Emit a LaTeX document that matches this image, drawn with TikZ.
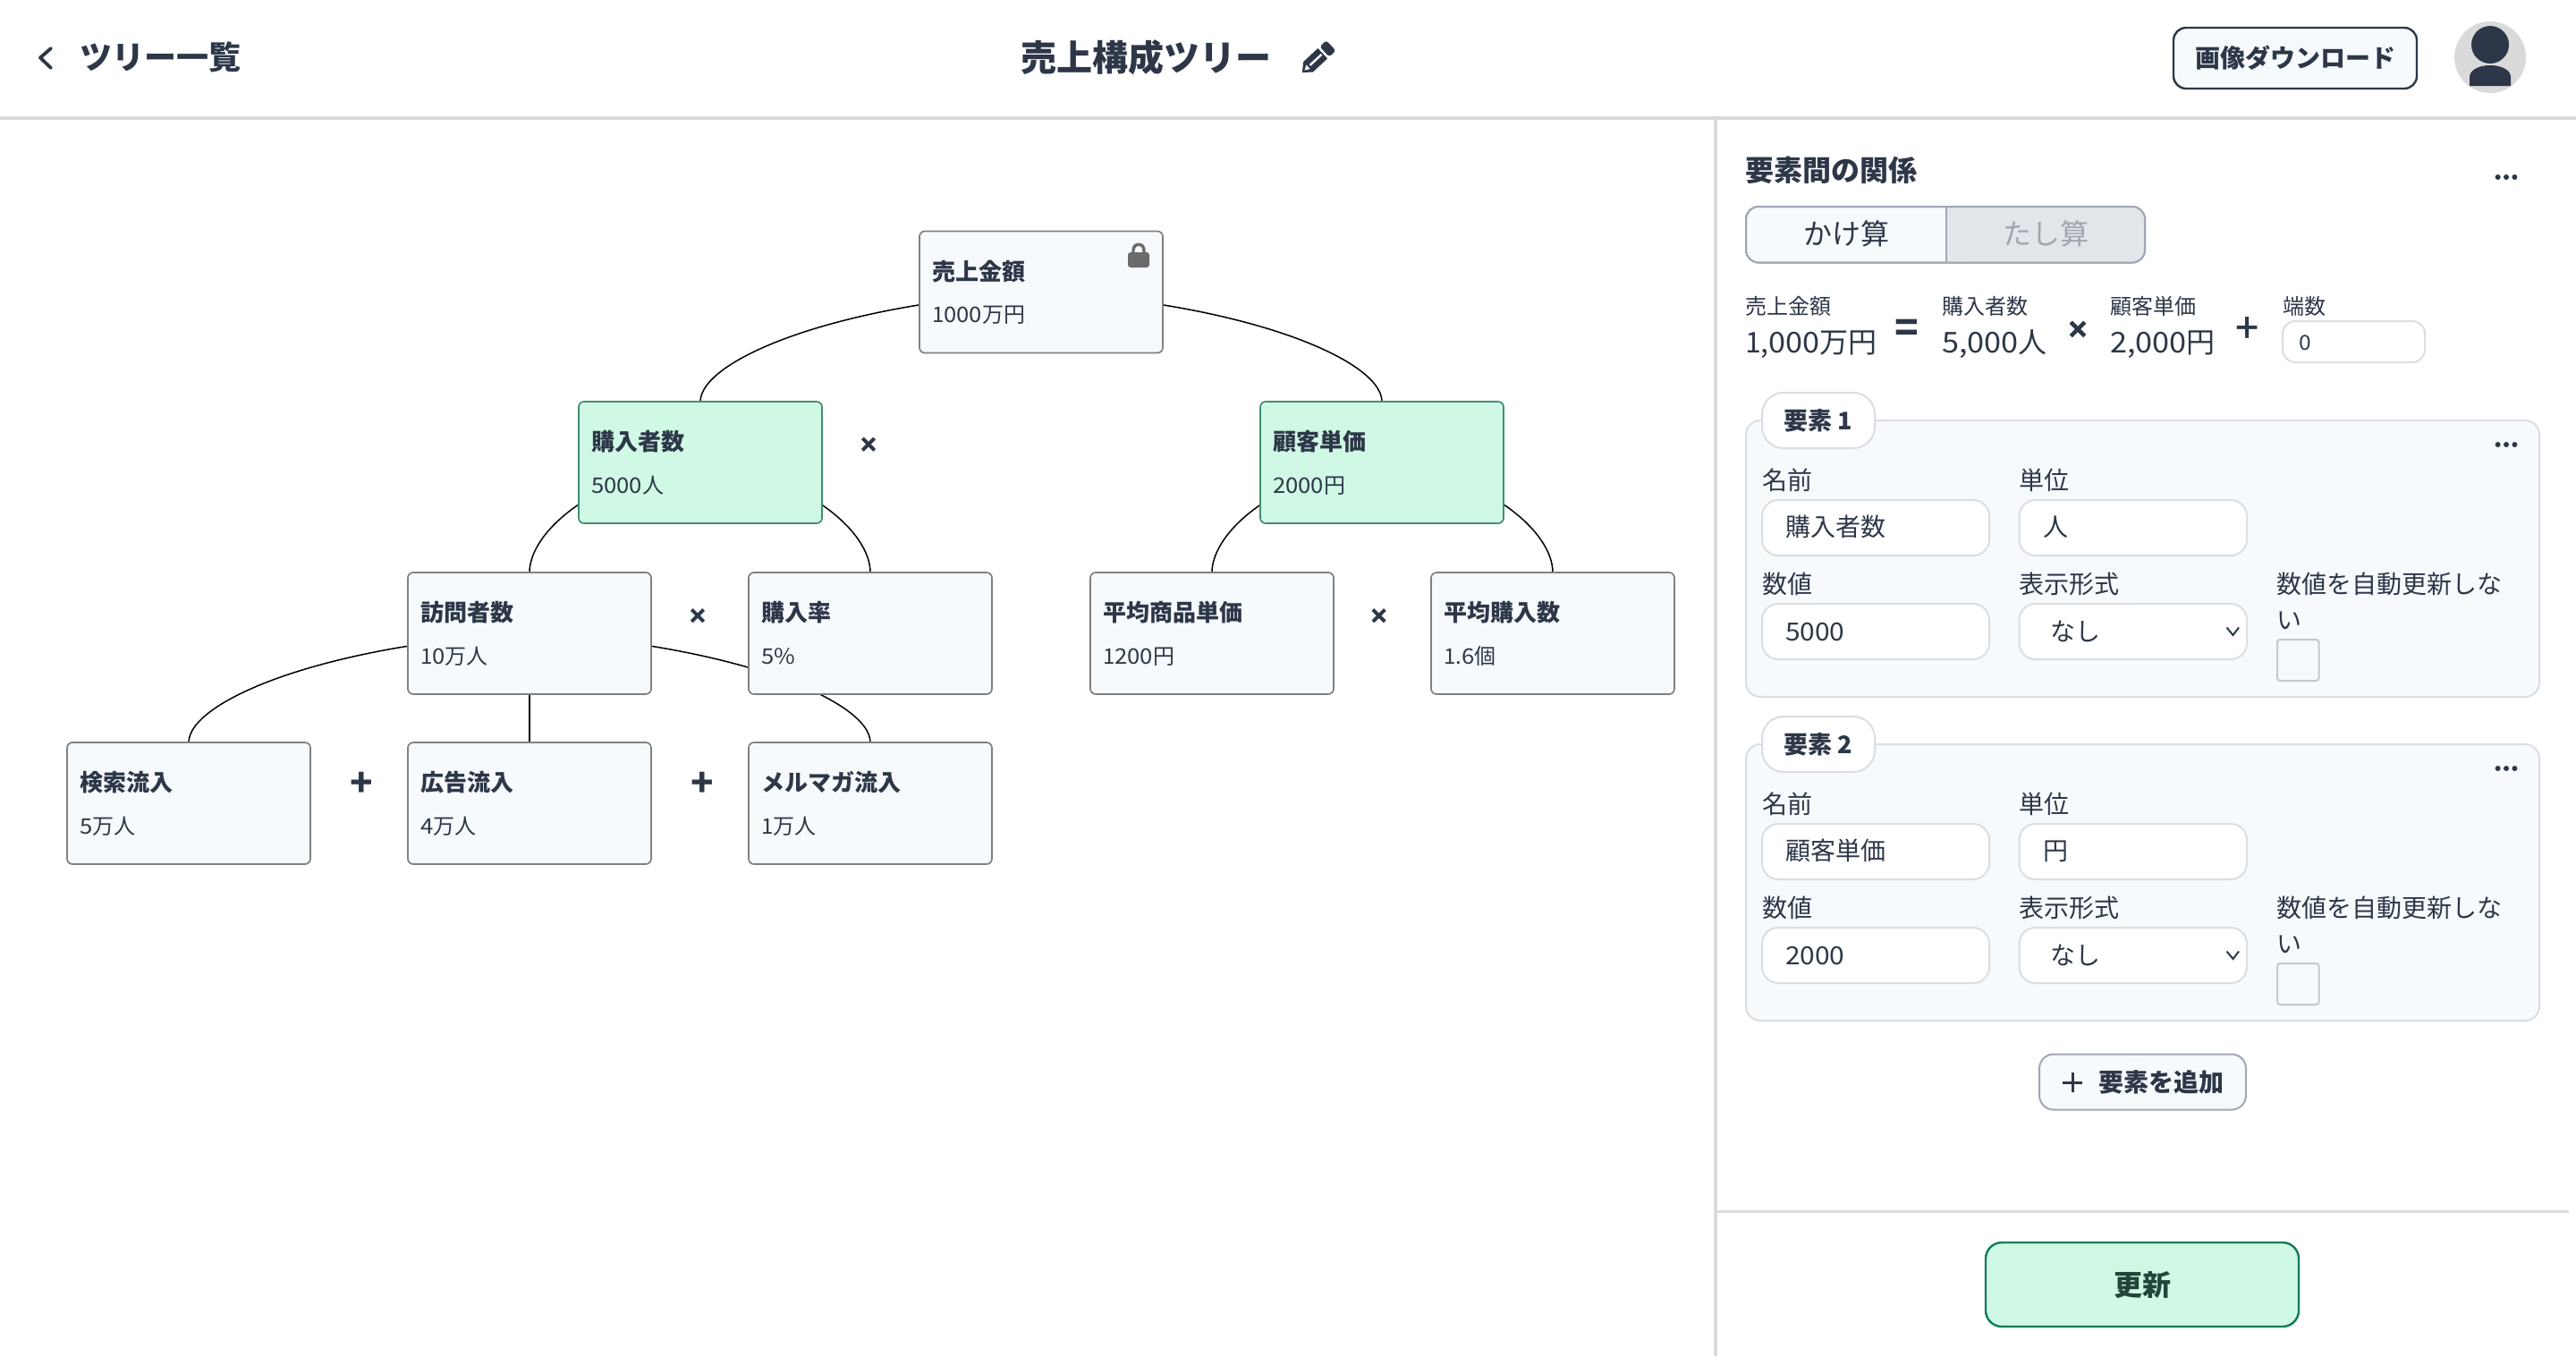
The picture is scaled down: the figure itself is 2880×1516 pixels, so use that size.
\documentclass[tikz,border=0pt]{standalone}
\usepackage{fontspec}
\setmainfont{Noto Sans CJK JP}
\newfontfamily\dg{Noto Sans CJK JP}[FakeStretch=1.07]
\newfontfamily\medfont{Noto Sans CJK JP Medium}
\newfontfamily\opfont{DejaVu Sans Bold}[FakeBold=4]
\usetikzlibrary{calc,backgrounds}
\definecolor{ink}{HTML}{2D3748}
\definecolor{panelbg}{HTML}{F7FAFC}
\definecolor{mint}{HTML}{CFF9E4}
\definecolor{mintline}{HTML}{3F8F72}
\definecolor{rulegray}{HTML}{DADADA}
\definecolor{boxgray}{HTML}{808080}
\definecolor{softline}{HTML}{DADDE2}
\definecolor{midline}{HTML}{A0A6B5}
\definecolor{offbg}{HTML}{E2E5EA}
\definecolor{offtext}{HTML}{A0A5B0}
\definecolor{updateline}{HTML}{0F7B5A}
\definecolor{updatetext}{HTML}{22443A}
\definecolor{lockgray}{HTML}{6B6B6B}
\tikzset{
  x=1pt,y=-1pt,
  tx/.style={inner sep=0pt,outer sep=0pt,anchor=west,text=ink,
    font=\fontsize{#1}{#1}\selectfont,text height=#1*0.88pt,text depth=#1*0.12pt},
  txb/.style={tx=#1,font=\fontsize{#1}{#1}\selectfont\bfseries},
  txc/.style={tx=#1,anchor=center},
  txbc/.style={txb=#1,anchor=center},
  opsign/.style={txc=#1,font=\fontsize{#1}{#1}\selectfont\opfont},
  medsign/.style={txc=#1,font=\fontsize{#1}{#1}\selectfont\medfont},
  treebox/.style={draw=boxgray,fill=panelbg,line width=1.7pt,rounded corners=6pt,
    minimum width=272pt,minimum height=136pt,inner sep=0pt,outer sep=0pt},
  greenbox/.style={treebox,draw=mintline,fill=mint},
  link/.style={draw=black,line width=1.5pt},
  inputbox/.style={draw=softline,fill=white,line width=2pt,rounded corners=18pt},
  cardbox/.style={draw=softline,fill=panelbg,line width=2pt,rounded corners=16pt},
}
\newcommand{\treenode}[7]{% name cx cy style title value
  \node[#4] (#1) at (#2,#3) {};
  \node[txb=26] (#1-title) at ([xshift=14pt,yshift=23pt]#1.west) {#5};
  \node[tx=24] (#1-value) at ([xshift=14pt,yshift=-25pt]#1.west) {#6};
}
\newcommand{\treelink}[2]{%
  \draw[link] let \p1=(#1.center),\p2=(#2.north) in
    (\p1) .. controls ({\x1+0.6*(\x2-\x1)},{\y1+0.1*(\y2-\y1)})
    and ({\x2},{\y1+0.62*(\y2-\y1)}) .. (\p2);
}
\newcommand{\threedots}[2]{%
  \fill[ink] (#1-9.4,#2) circle[radius=3pt] (#1,#2) circle[radius=3pt] (#1+9.4,#2) circle[radius=3pt];
}
\newcommand{\elementcard}[6]{% yshift, tab, name, unit, value
  \begin{scope}[yshift=-#1pt]
    \draw[cardbox] (1952,470) rectangle (2839,779);
    \node[draw=softline,fill=white,line width=2pt,rounded corners=24pt,minimum width=126pt,minimum height=62pt,inner sep=0pt,outer sep=0pt] (tab#2) at (2033,470) {};
    \node[txbc=27] at (tab#2.center) {要素 #2};
    \threedots{2802}{497}
    \node[tx=28] at (1970,537) {名前};
    \node[tx=28] at (2257.5,537) {単位};
    \draw[inputbox] (1970,559) rectangle (2224,621);
    \node[tx=28] at (1996,589) {#3};
    \draw[inputbox] (2257.5,559) rectangle (2512,621);
    \node[tx=28] at (2284,589) {#4};
    \node[tx=28] at (1970,653) {数値};
    \node[tx=28] at (2257.5,653) {表示形式};
    \draw[inputbox] (1970,675) rectangle (2224,737);
    \node[tx=28] at (1996,705.5) {\dg #5};
    \draw[inputbox] (2257.5,675) rectangle (2512,737);
    \node[tx=28] at (2292,705.5) {なし};
    \draw[ink,line width=2pt] (2489.5,701.5) -- (2496.5,710) -- (2503,701.5);
    \node[tx=28] at (2545.5,653) {数値を自動更新しな};
    \node[tx=28] at (2545.5,693) {い};
    \draw[draw=softline!90!black,fill=panelbg,line width=2pt,rounded corners=3pt] (2546,715) rectangle (2592.5,761);
  \end{scope}
}
\begin{document}
\begin{tikzpicture}
\useasboundingbox (0,0) rectangle (2880,1516);
\begin{scope}[on background layer]
  \fill[white] (0,0) rectangle (2880,1516);
\end{scope}

% tree nodes
\treenode{root}{1164}{326.5}{treebox}{売上金額}{1{\dg 000}万円}{}
\treenode{buyers}{783}{517}{greenbox}{購入者数}{{\dg 5000}人}{}
\treenode{price}{1545}{517}{greenbox}{顧客単価}{{\dg 2000}円}{}
\treenode{visits}{592}{708}{treebox}{訪問者数}{1{\dg 0}万人}{}
\treenode{rate}{973}{708}{treebox}{購入率}{{\dg 5\%}}{}
\treenode{unitprice}{1355}{708}{treebox}{平均商品単価}{1{\dg 200}円}{}
\treenode{qty}{1736}{708}{treebox}{平均購入数}{1.{\dg 6}個}{}
\treenode{search}{211}{898}{treebox}{検索流入}{{\dg 5}万人}{}
\treenode{ads}{592}{898}{treebox}{広告流入}{{\dg 4}万人}{}
\treenode{mail}{973}{898}{treebox}{メルマガ流入}{1万人}{}

% connectors behind the boxes
\begin{scope}[on background layer]
  \treelink{root}{buyers}
  \treelink{root}{price}
  \treelink{buyers}{visits}
  \treelink{buyers}{rate}
  \treelink{price}{unitprice}
  \treelink{price}{qty}
  \treelink{visits}{search}
  \treelink{visits}{ads}
  \treelink{visits}{mail}
\end{scope}

% lock
\draw[lockgray,line width=3.4pt] (1267,284) -- (1267,280) .. controls (1267,271) and (1279,271) .. (1279,280) -- (1279,284);
\fill[lockgray,rounded corners=3pt] (1261,282) rectangle (1285,299);

% operators
\node[opsign=25] (op1) at (971,495) {×};
\node[opsign=25] (op2) at (780,686.5) {×};
\node[opsign=25] (op3) at (1541.6,686.5) {×};
\node[txbc=42] (op4) at (404,875) {+};
\node[txbc=42] (op5) at (785,875) {+};

% page rules
\fill[rulegray] (0,130) rectangle (2880,133.5);
\fill[rulegray] (1916,133) rectangle (1919.5,1516);
\fill[rulegray] (1918,1352.5) rectangle (2872,1356);

% header
\draw[ink,line width=3.8pt,line cap=round,line join=round] (57,54) -- (45,64.5) -- (57,76);
\node[txb=36] (back) at (89,64) {ツリー一覧};
\node[txb=40] (title) at (1141,64) {売上構成ツリー};
\begin{scope}[shift={(1472,66)},rotate=43,scale=0.92]
  \fill[ink,line join=round] (-24,0) -- (-14,-8.5) -- (10,-8.5) -- (10,8.5) -- (-14,8.5) -- cycle;
  \fill[ink,rounded corners=3pt] (13,-8.5) rectangle (24,8.5);
  \draw[white,line width=2.4pt] (-11,0) -- (8,0);
  \fill[white] (-20,0) -- (-14,-3.5) -- (-14,3.5) -- cycle;
\end{scope}
\node[draw=ink,fill=panelbg,line width=2.4pt,rounded corners=14pt,minimum width=272pt,minimum height=68pt,inner sep=0pt] (download) at (2566,65) {};
\node[txbc=28] at (download.center) {\bfseries 画像ダウンロード};
\fill[rulegray] (2784,64) circle[radius=40pt];
\fill[ink] (2784,50) circle[radius=21pt];
\fill[ink] (2761,96) -- (2761,86) .. controls (2761,78) and (2772,73) .. (2784,73) .. controls (2796,73) and (2807,78) .. (2807,86) -- (2807,96) -- cycle;

% relation panel
\node[txb=32] at (1951,190) {要素間の関係};
\threedots{2802}{198}
\draw[draw=midline,fill=panelbg,line width=2pt,rounded corners=14pt] (1952,231) rectangle (2398,293.5);
\fill[offbg,rounded corners=13pt] (2177,232) rectangle (2397,292.5);
\fill[offbg] (2177,232) rectangle (2200,292.5);
\draw[midline,line width=2pt,rounded corners=14pt] (1952,231) rectangle (2398,293.5);
\draw[midline,line width=2pt] (2176,231) -- (2176,293.5);
\node[txc=32] at (2064,261) {かけ算};
\node[txc=32,text=offtext] at (2287.5,261) {たし算};

\node[tx=24] at (1951,342) {売上金額};
\node[tx=32] at (1951,382) {1,{\dg 000}万円};
\node[txbc=44] at (2132,366) {=};
\node[tx=24] at (2171,342) {購入者数};
\node[tx=32] at (2171,382) {{\dg 5,000}人};
\node[opsign=29] at (2323,366) {×};
\node[tx=24] at (2359,342) {顧客単価};
\node[tx=32] at (2359,382) {{\dg 2,000}円};
\node[medsign=46] at (2513,366) {+};
\node[tx=24] at (2552,342) {端数};
\draw[inputbox,rounded corners=14pt] (2552,359) rectangle (2711,405);
\node[tx=23] at (2570,383) {\dg 0};

% element cards
\elementcard{0}{1}{購入者数}{人}{5000}{}
\elementcard{362}{2}{顧客単価}{円}{2000}{}

% add button
\node[draw=midline,fill=panelbg,line width=2pt,rounded corners=16pt,minimum width=231pt,minimum height=62pt,inner sep=0pt] (add) at (2395.5,1209.5) {};
\draw[ink,line width=3pt] (2306,1210) -- (2328,1210) (2317,1199) -- (2317,1221);
\node[txb=28] at (2346,1209.5) {要素を追加};

% update button
\node[draw=updateline,fill=mint,line width=2.4pt,rounded corners=18pt,minimum width=350pt,minimum height=94pt,inner sep=0pt] (update) at (2395,1436) {};
\node[txbc=32,text=updatetext] at (update.center) {更新};
\end{tikzpicture}
\end{document}
